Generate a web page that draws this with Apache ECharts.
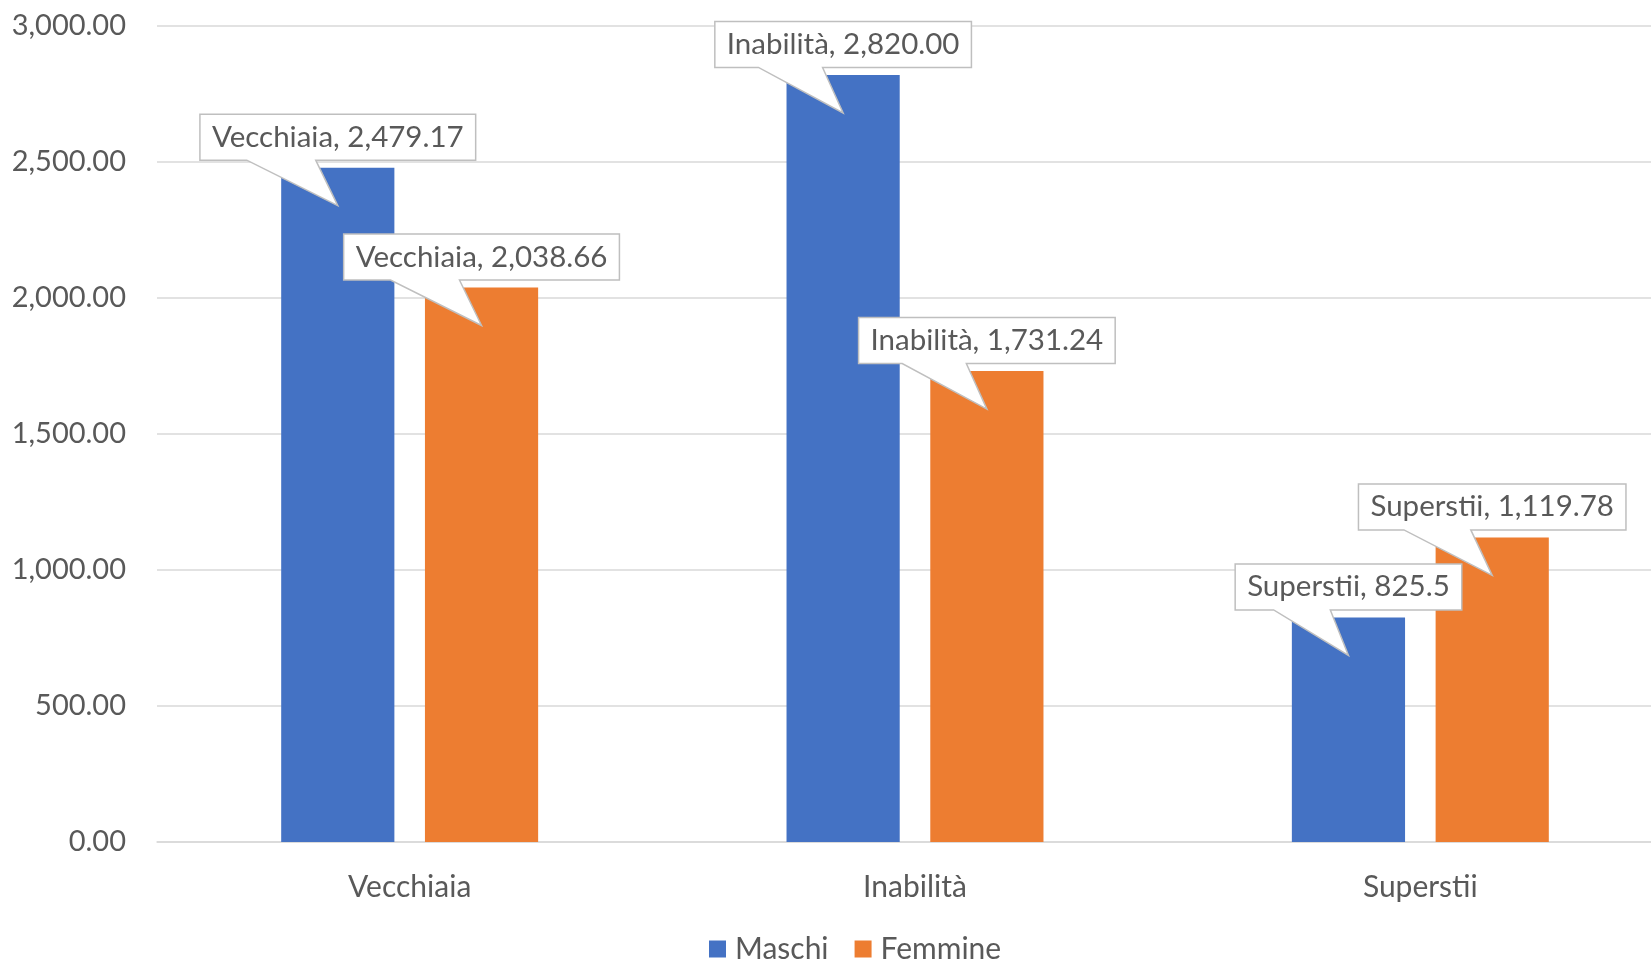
<!DOCTYPE html>
<html>
<head>
<meta charset="utf-8">
<script src="https://cdn.jsdelivr.net/npm/echarts@6/dist/echarts.min.js"></script>
<style>
html,body{margin:0;padding:0;background:#fff;}
#chart{width:1651px;height:961px;}
</style>
</head>
<body>
<div id="chart"></div>
<script>
// ---- data ----
const categories = ["Vecchiaia", "Inabilità", "Superstii"];
const seriesNames = ["Maschi", "Femmine"];
const maschi = [2479.17, 2820.00, 825.5];
const femmine = [2038.66, 1731.24, 1119.78];
const maschiLabels = ["2,479.17", "2,820.00", "825.5"];
const femmineLabels = ["2,038.66", "1,731.24", "1,119.78"];
const yTicks = {min: 0, max: 3000, interval: 500};

// ---- styles ----
const FONT = 'Lato, "Open Sans", sans-serif';
const FS_CALL = 29.5;
const FS_AXIS = 30;
const FS_TICK = 29;
const TXT = '#595959';
const BAR_W = 0.224;   // fraction of band
const BAR_GAP = 0.27;  // fraction of bar width

const measureCtx = document.createElement('canvas').getContext('2d');
measureCtx.font = FS_CALL + 'px ' + FONT;

function calloutSeries(values, labels, sign) {
  return {
    type: 'custom',
    z: 10,
    silent: true,
    data: values.map((v, i) => [i, v]),
    renderItem: function (params, api) {
      const i = api.value(0), v = api.value(1);
      const pt = api.coord([i, v]);
      const band = api.size([1, 0])[0];
      const w = band * BAR_W;
      const off = (w + w * BAR_GAP) / 2 * sign;
      const cx = pt[0] + off;
      const topY = pt[1];
      const text = categories[i] + ', ' + labels[i];
      const tw = measureCtx.measureText(text).width;
      const bw = tw + 24, bh = 46;
      const L = cx - bw / 2, R = cx + bw / 2;
      const B = topY - 7.5, T = B - bh;
      const tipX = cx, tipY = topY + 38;
      const pts = [[L, T], [R, T], [R, B], [L + 0.42 * bw, B], [tipX, tipY], [L + 0.17 * bw, B], [L, B]];
      return {
        type: 'group',
        children: [
          {type: 'polygon', shape: {points: pts},
           style: {fill: '#fff', stroke: '#bfbfbf', lineWidth: 1.5}},
          {type: 'text', x: cx, y: (T + B) / 2,
           style: {text: text, fill: TXT, font: FS_CALL + 'px ' + FONT, align: 'center', verticalAlign: 'middle'}}
        ]
      };
    }
  };
}

const chart = echarts.init(document.getElementById('chart'));
chart.setOption({
  animation: false,
  backgroundColor: '#fff',
  grid: {left: 157, width: 1516, top: 26, bottom: 119, containLabel: false, outerBoundsMode: 'none'},
  legend: {
    data: seriesNames,
    top: 929,
    left: 704,
    icon: 'rect',
    itemWidth: 17, itemHeight: 17,
    itemGap: 26,
    textStyle: {color: TXT, fontSize: FS_AXIS, fontFamily: FONT, padding: [0, 0, 0, 4]}
  },
  xAxis: {
    type: 'category',
    data: categories,
    axisTick: {show: false},
    axisLine: {lineStyle: {color: '#d9d9d9', width: 1.5}},
    axisLabel: {color: TXT, fontSize: FS_AXIS, fontFamily: FONT, margin: 30}
  },
  yAxis: {
    type: 'value',
    min: yTicks.min, max: yTicks.max, interval: yTicks.interval,
    axisLine: {show: false}, axisTick: {show: false},
    splitLine: {lineStyle: {color: '#d9d9d9', width: 1.5}},
    axisLabel: {color: TXT, fontSize: FS_TICK, fontFamily: FONT, margin: 31,
      formatter: v => v.toLocaleString('en-US', {minimumFractionDigits: 2, maximumFractionDigits: 2})}
  },
  series: [
    {name: seriesNames[0], type: 'bar', data: maschi, barWidth: (BAR_W * 100) + '%', barGap: (BAR_GAP * 100) + '%',
     itemStyle: {color: '#4472C4'}},
    {name: seriesNames[1], type: 'bar', data: femmine, barWidth: (BAR_W * 100) + '%', barGap: (BAR_GAP * 100) + '%',
     itemStyle: {color: '#ED7D31'}},
    calloutSeries(maschi, maschiLabels, -1),
    calloutSeries(femmine, femmineLabels, 1)
  ]
});
</script>
</body>
</html>
